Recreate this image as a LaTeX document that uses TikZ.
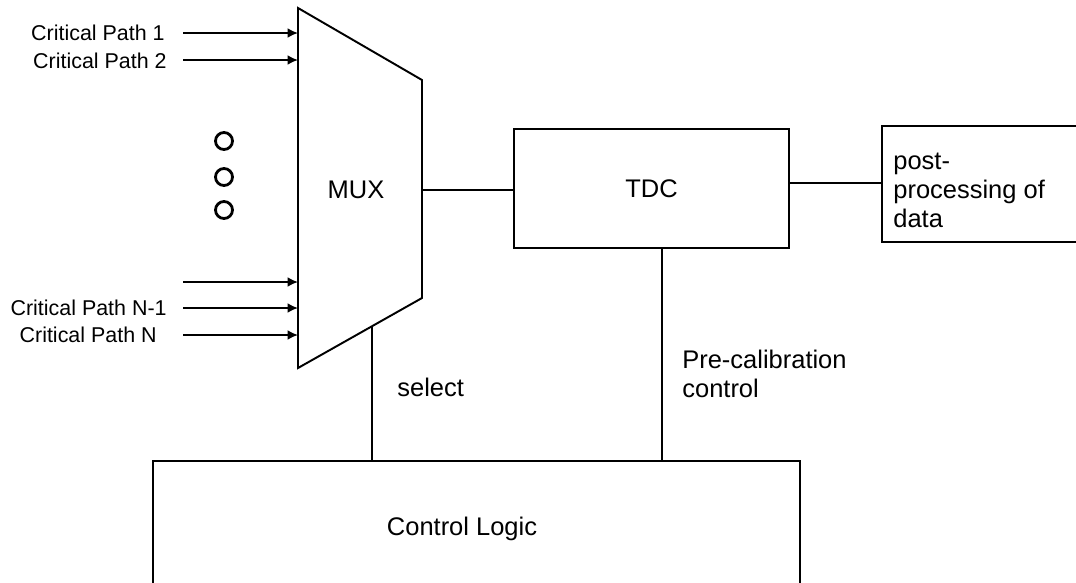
\documentclass[tikz,border=0pt]{standalone}
\usepackage{fontspec}
\setmainfont{Liberation Sans}
\usetikzlibrary{positioning,%
  calc,%
  arrows,%
  arrows.meta
}

\tikzset{
  wire/.style={line width=1.1pt},
  blk/.style={draw, line width=1.1pt, inner sep=0pt},
  inarrow/.style={line width=1.1pt, -{Latex[length=0.21cm,width=0.2cm]}},
  pathlabel/.style={font=\fontsize{12.2}{14}\selectfont, inner sep=0pt},
  biglabel/.style={font=\fontsize{14.5}{16.5}\selectfont, inner sep=0pt, align=left},
  dotmark/.style={draw, circle, line width=1.6pt, minimum size=0.34cm, inner sep=0pt}
}

\begin{document}
\begin{tikzpicture}[x=0.02cm, y=-0.02cm]
            \useasboundingbox (0,0) rectangle (1076,582);

            % multiplexer outline
            \coordinate (mtl) at (298,8);
            \coordinate (mtr) at (422,80);
            \coordinate (mbr) at (422,298);
            \coordinate (mbl) at (298,368);
            \draw [wire, line join=miter] (mtl) -- (mtr) -- (mbr) -- (mbl) -- cycle;
            \node [biglabel] (mux) at (356,190) {MUX};

            % critical path inputs
            \foreach \y/\n in {33/a,60/b,282/c,308/d,335/e} {
              \coordinate (src\n) at (183,\y);
              \coordinate (dst\n) at (298,\y);
              \draw [inarrow] (src\n) -- (dst\n);
            }
            \node [pathlabel, anchor=east] (cp1) at (165,33) {Critical Path 1};
            \node [pathlabel, anchor=east] (cp2) at (167,61) {Critical Path 2};
            \node [pathlabel, anchor=east] (cpm) at (167,308) {Critical Path N-1};
            \node [pathlabel, anchor=east] (cpn) at (157,335) {Critical Path N};

            \foreach \y/\n in {141/1,177/2,210/3}
              \node [dotmark] (dot\n) at (224,\y) {};

            % blocks
            \node [blk, biglabel, minimum width=5.5cm, minimum height=2.38cm] (tdc) at (651.5,188.5) {TDC};
            \node [blk, minimum width=4.2cm, minimum height=2.32cm] (post) at (987,184) {};
            \node [biglabel, anchor=west] (postlbl) at (893,190) {post-\\processing of\\data};
            \node [blk, minimum width=12.94cm, minimum height=2.72cm] (ctrl) at (476.5,529) {};
            \node [biglabel] (ctrllbl) at (462,529) {Control Logic};

            % connections
            \coordinate (muxout) at (422,190);
            \draw [wire] (muxout) -- (muxout -| tdc.west);
            \coordinate (tdcout) at (789,183);
            \draw [wire] (tdcout) -- (tdcout -| post.west);
            \coordinate (sel) at (372,326);
            \draw [wire] (sel) -- (sel |- ctrl.north);
            \coordinate (cal) at (662,248);
            \draw [wire] (cal) -- (cal |- ctrl.north);

            \node [biglabel, anchor=west] (sellbl) at (397,387) {select};
            \node [biglabel, anchor=west] (callbl) at (682,374) {Pre-calibration\\control};
        \end{tikzpicture}
\end{document}
